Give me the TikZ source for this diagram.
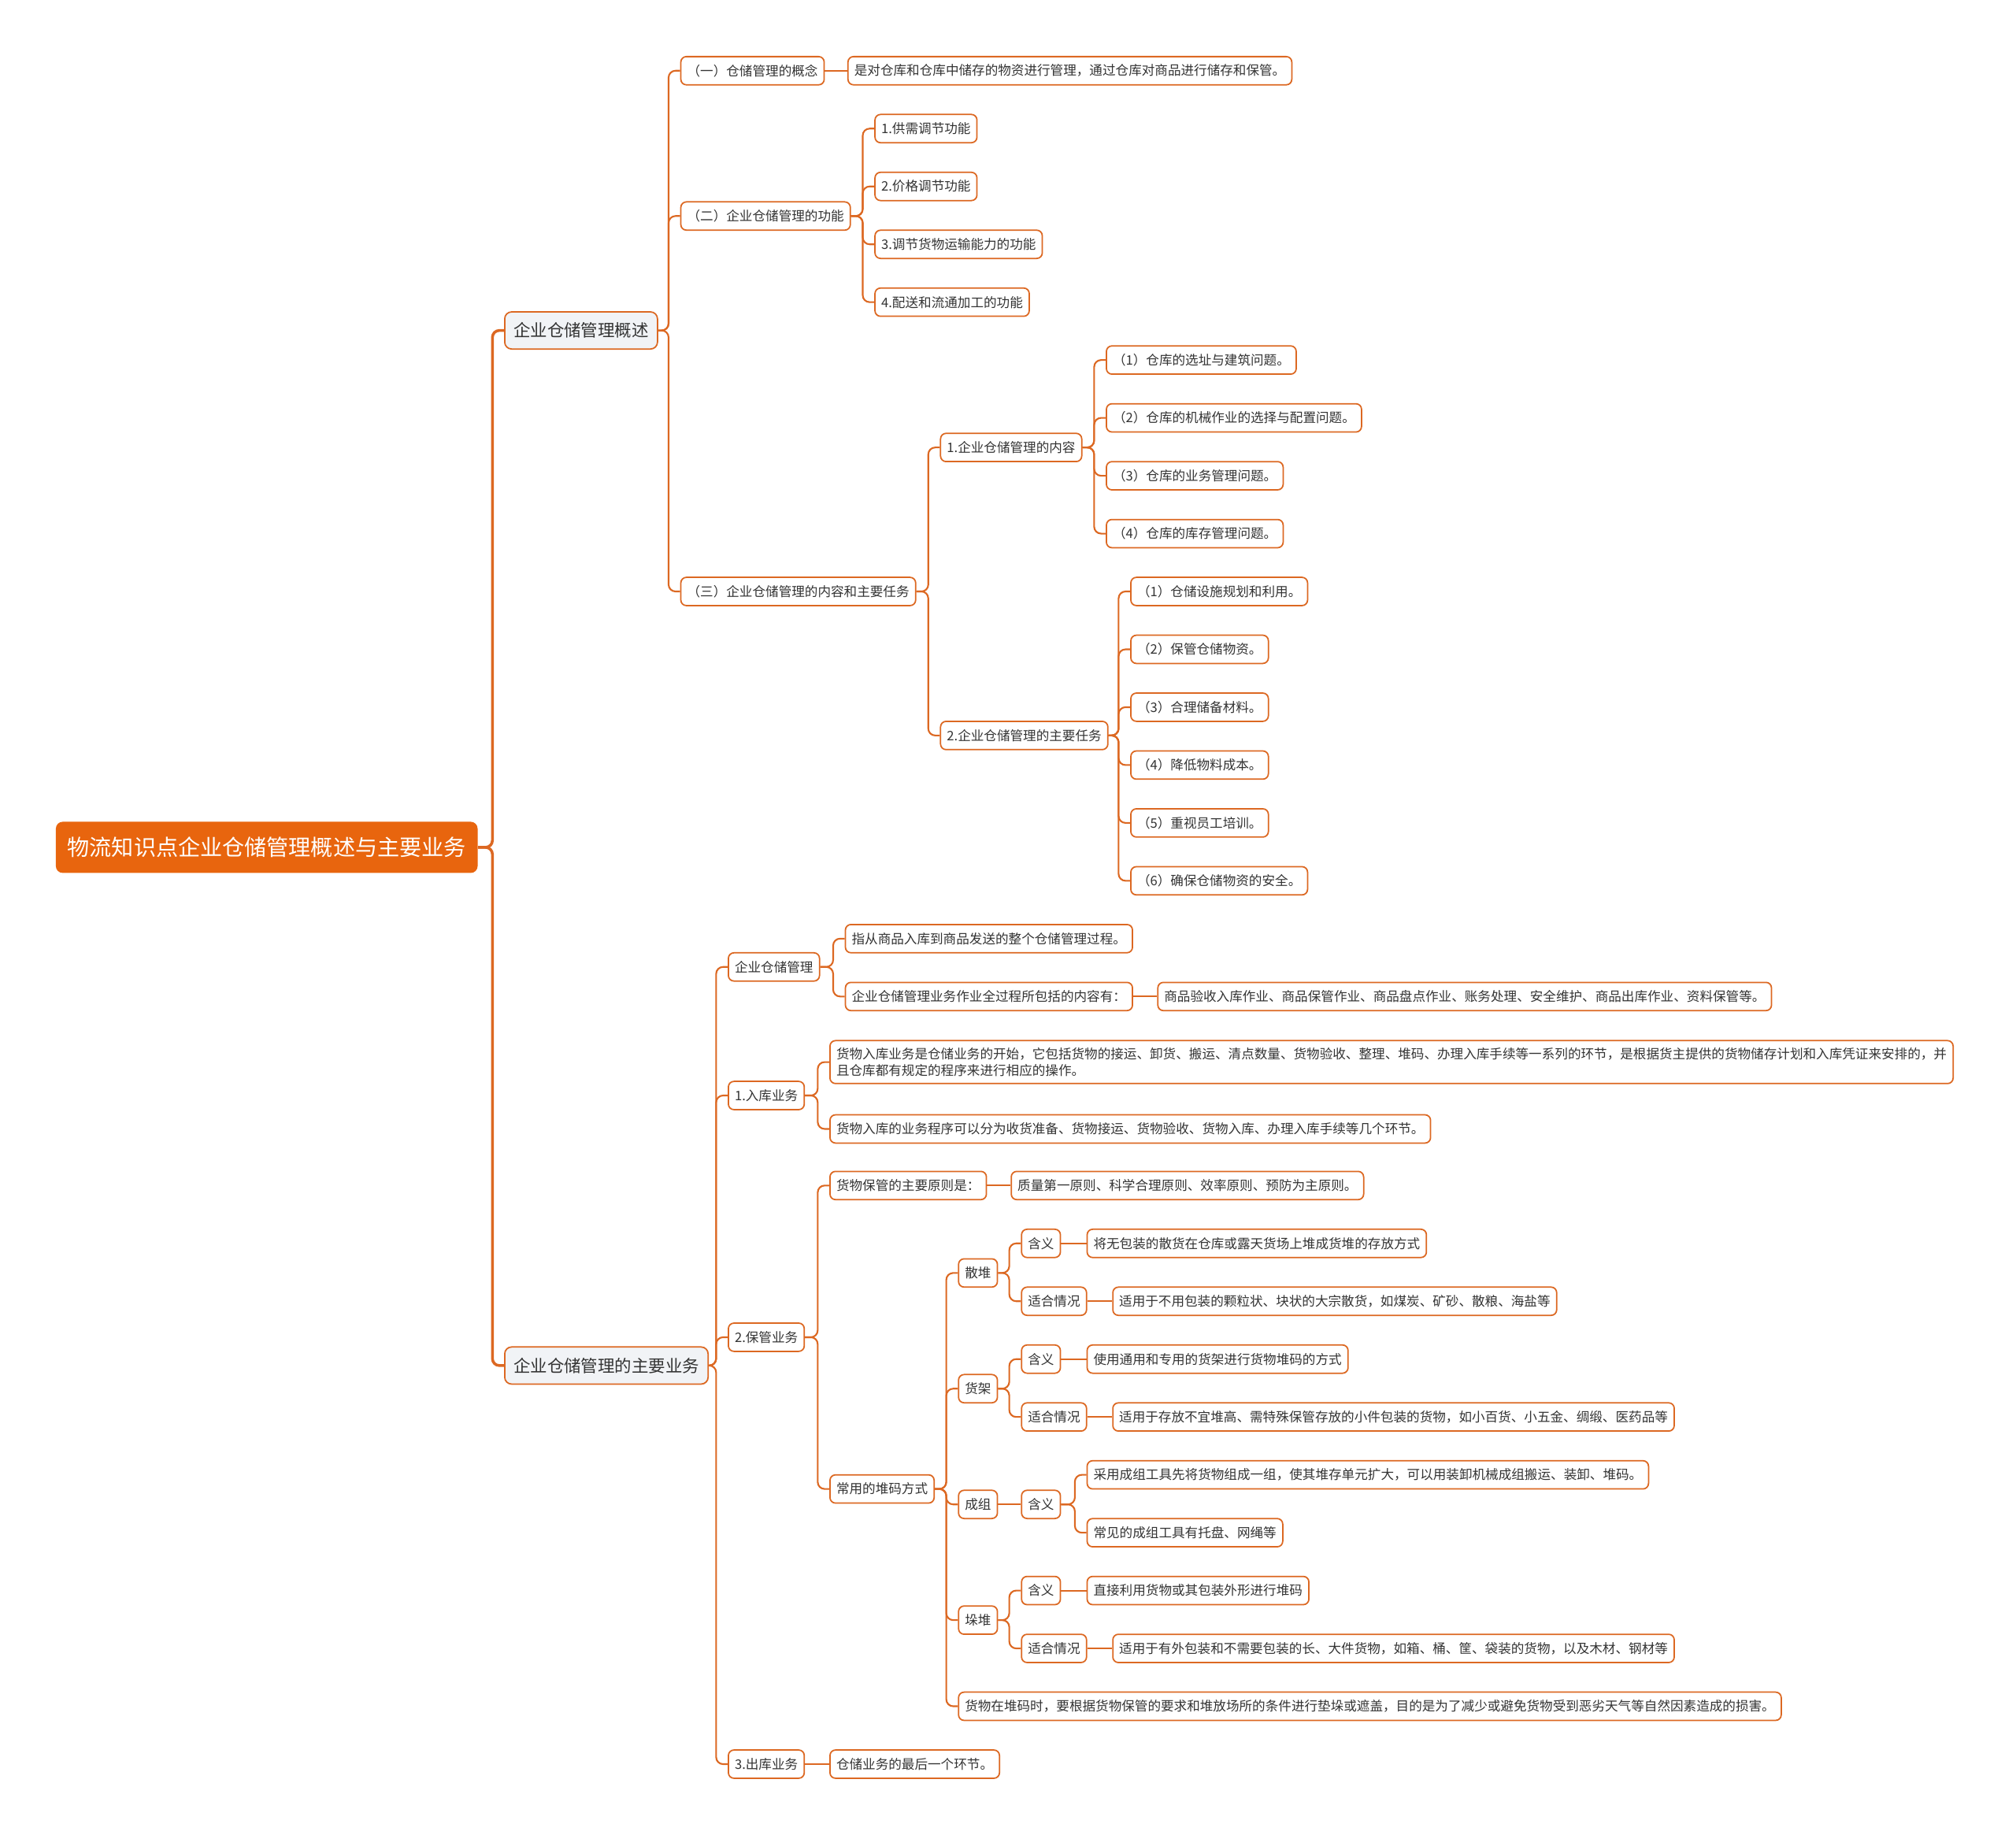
\documentclass[tikz,border=0pt]{standalone}
\usepackage{fontspec}
\setmainfont{Noto Sans CJK SC}
\usetikzlibrary{calc}
\definecolor{mmorange}{RGB}{232,101,14}
\definecolor{mmline}{RGB}{220,104,34}
\definecolor{topicfill}{RGB}{241,243,246}
\definecolor{ink}{gray}{0.2}

\begin{document}
\begin{tikzpicture}[x=0.01633cm,y=-0.01633cm,
  leaf/.style={draw=mmline,line width=0.5pt,fill=white,rounded corners=2pt,anchor=west,text=ink,
    font=\fontsize{4.72pt}{6.1pt}\selectfont,inner xsep=2.3pt,inner ysep=1pt,minimum height=10.2pt},
  topic/.style={leaf,fill=topicfill,font=\fontsize{6.1pt}{7pt}\selectfont,inner xsep=3.2pt,
    minimum height=13.4pt,rounded corners=2.5pt},
  rootbox/.style={fill=mmorange,text=white,rounded corners=2.5pt,anchor=west,
    font=\fontsize{8pt}{9pt}\selectfont,inner xsep=4.2pt,minimum height=18.5pt},
  link/.style={draw=mmline,line width=0.6pt,rounded corners=2.5pt}]
\useasboundingbox (0,0) rectangle (1568,1427);

% root and main topics
\node[rootbox] (root) at (43,659) {物流知识点企业仓储管理概述与主要业务};
\node[topic] (ov) at (392,257) {企业仓储管理概述};
\node[topic] (biz) at (392,1062) {企业仓储管理的主要业务};

% overview branch
\node[leaf] (a1) at (529,55) {（一）仓储管理的概念};
\node[leaf] (a1x) at (659,55) {是对仓库和仓库中储存的物资进行管理，通过仓库对商品进行储存和保管。};
\node[leaf] (a2) at (529,168) {（二）企业仓储管理的功能};
\node[leaf] (f1) at (680,100) {1.供需调节功能};
\node[leaf] (f2) at (680,145) {2.价格调节功能};
\node[leaf] (f3) at (680,190) {3.调节货物运输能力的功能};
\node[leaf] (f4) at (680,235) {4.配送和流通加工的功能};
\node[leaf] (a3) at (529,460) {（三）企业仓储管理的内容和主要任务};
\node[leaf] (c1) at (731,348) {1.企业仓储管理的内容};
\node[leaf] (c1a) at (860,280) {（1）仓库的选址与建筑问题。};
\node[leaf] (c1b) at (860,325) {（2）仓库的机械作业的选择与配置问题。};
\node[leaf] (c1c) at (860,370) {（3）仓库的业务管理问题。};
\node[leaf] (c1d) at (860,415) {（4）仓库的库存管理问题。};
\node[leaf] (c2) at (731,572) {2.企业仓储管理的主要任务};
\node[leaf] (t1) at (879,460) {（1）仓储设施规划和利用。};
\node[leaf] (t2) at (879,505) {（2）保管仓储物资。};
\node[leaf] (t3) at (879,550) {（3）合理储备材料。};
\node[leaf] (t4) at (879,595) {（4）降低物料成本。};
\node[leaf] (t5) at (879,640) {（5）重视员工培训。};
\node[leaf] (t6) at (879,685) {（6）确保仓储物资的安全。};

% business branch
\node[leaf] (b0) at (566,752) {企业仓储管理};
\node[leaf] (b0a) at (657,730) {指从商品入库到商品发送的整个仓储管理过程。};
\node[leaf] (b0b) at (657,775) {企业仓储管理业务作业全过程所包括的内容有：};
\node[leaf] (b0c) at (900,775) {商品验收入库作业、商品保管作业、商品盘点作业、账务处理、安全维护、商品出库作业、资料保管等。};
\node[leaf] (b1) at (566,852) {1.入库业务};
\node[leaf,align=left,inner ysep=2.5pt] (b1a) at (645,826) {货物入库业务是仓储业务的开始，它包括货物的接运、卸货、搬运、清点数量、货物验收、整理、堆码、办理入库手续等一系列的环节，是根据货主提供的货物储存计划和入库凭证来安排的，并\\且仓库都有规定的程序来进行相应的操作。};
\node[leaf] (b1b) at (645,878) {货物入库的业务程序可以分为收货准备、货物接运、货物验收、货物入库、办理入库手续等几个环节。};
\node[leaf] (b2) at (566,1040) {2.保管业务};
\node[leaf] (p1) at (645,922) {货物保管的主要原则是：};
\node[leaf] (p1a) at (786,922) {质量第一原则、科学合理原则、效率原则、预防为主原则。};
\node[leaf] (p2) at (645,1158) {常用的堆码方式};
\node[leaf] (s1) at (745,990) {散堆};
\node[leaf] (s1m) at (794,967) {含义};
\node[leaf] (s1mx) at (845,967) {将无包装的散货在仓库或露天货场上堆成货堆的存放方式};
\node[leaf] (s1s) at (794,1012) {适合情况};
\node[leaf] (s1sx) at (865,1012) {适用于不用包装的颗粒状、块状的大宗散货，如煤炭、矿砂、散粮、海盐等};
\node[leaf] (s2) at (745,1080) {货架};
\node[leaf] (s2m) at (794,1057) {含义};
\node[leaf] (s2mx) at (845,1057) {使用通用和专用的货架进行货物堆码的方式};
\node[leaf] (s2s) at (794,1102) {适合情况};
\node[leaf] (s2sx) at (865,1102) {适用于存放不宜堆高、需特殊保管存放的小件包装的货物，如小百货、小五金、绸缎、医药品等};
\node[leaf] (s3) at (745,1170) {成组};
\node[leaf] (s3m) at (794,1170) {含义};
\node[leaf] (s3ma) at (845,1147) {采用成组工具先将货物组成一组，使其堆存单元扩大，可以用装卸机械成组搬运、装卸、堆码。};
\node[leaf] (s3mb) at (845,1192) {常见的成组工具有托盘、网绳等};
\node[leaf] (s4) at (745,1260) {垛堆};
\node[leaf] (s4m) at (794,1237) {含义};
\node[leaf] (s4mx) at (845,1237) {直接利用货物或其包装外形进行堆码};
\node[leaf] (s4s) at (794,1282) {适合情况};
\node[leaf] (s4sx) at (865,1282) {适用于有外包装和不需要包装的长、大件货物，如箱、桶、筐、袋装的货物，以及木材、钢材等};
\node[leaf] (s5) at (745,1327) {货物在堆码时，要根据货物保管的要求和堆放场所的条件进行垫垛或遮盖，目的是为了减少或避免货物受到恶劣天气等自然因素造成的损害。};
\node[leaf] (b3) at (566,1372) {3.出库业务};
\node[leaf] (b3a) at (645,1372) {仓储业务的最后一个环节。};

% connectors
\foreach \c in {ov,biz}
  \draw[link,line width=1pt] (root.east) -| ($(\c.west)+(-9,0)$) -- (\c.west);
\foreach \p/\c in {ov/a1,ov/a2,ov/a3,a2/f1,a2/f2,a2/f3,a2/f4,a3/c1,a3/c2,
    c1/c1a,c1/c1b,c1/c1c,c1/c1d,c2/t1,c2/t2,c2/t3,c2/t4,c2/t5,c2/t6,
    biz/b0,biz/b1,biz/b2,biz/b3,b0/b0a,b0/b0b,b1/b1a,b1/b1b,b2/p1,b2/p2,
    p2/s1,p2/s2,p2/s3,p2/s4,p2/s5,s1/s1m,s1/s1s,s2/s2m,s2/s2s,
    s3m/s3ma,s3m/s3mb,s4/s4m,s4/s4s}
  \draw[link] (\p.east) -| ($(\c.west)+(-9,0)$) -- (\c.west);
% straight links on one level
\foreach \p/\c in {a1/a1x,b0b/b0c,p1/p1a,s1m/s1mx,s1s/s1sx,s2m/s2mx,s2s/s2sx,
    s3/s3m,s4m/s4mx,s4s/s4sx,b3/b3a}
  \draw[link] (\p.east) -- (\c.west);
\end{tikzpicture}
\end{document}
